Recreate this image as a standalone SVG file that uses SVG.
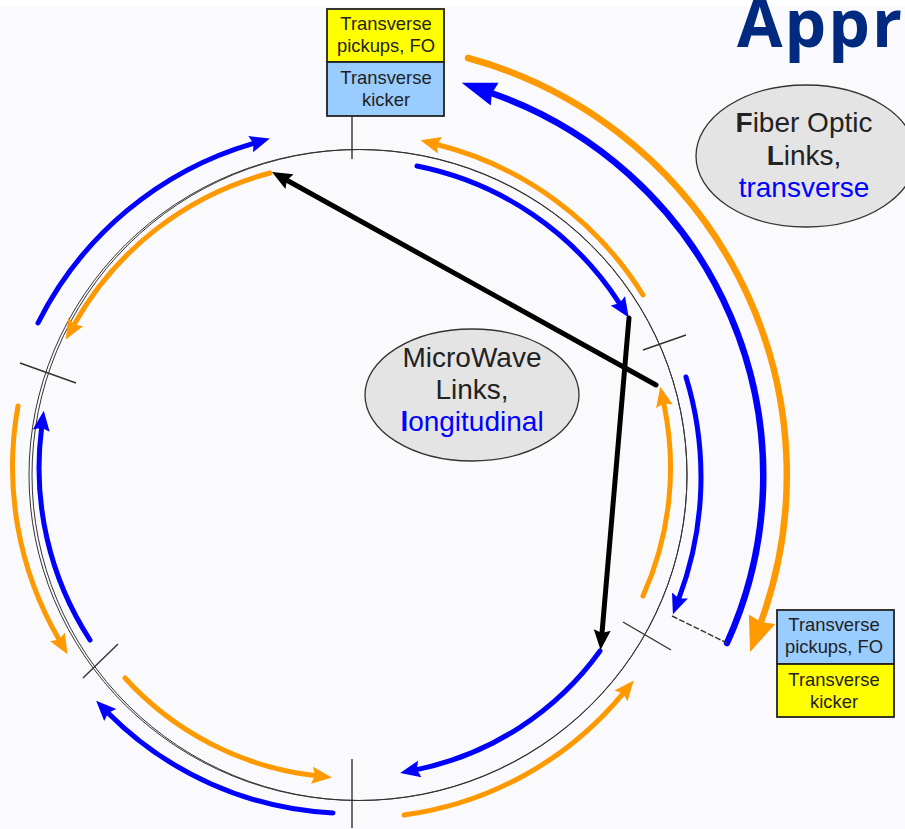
<svg xmlns="http://www.w3.org/2000/svg" width="905" height="829" viewBox="0 0 905 829">
<style>
.o{stroke:#ff9900;fill:none}
.b{stroke:#0000ff;fill:none}
.k{stroke:#000;fill:none;stroke-width:5;stroke-linecap:round}
.thin{stroke-width:5;stroke-linecap:round}
.thick{stroke-width:6.5;stroke-linecap:round}
.ring{fill:none;stroke:#333;stroke-width:1}
.tick{stroke:#333;stroke-width:1.4;fill:none}
.box{stroke:#222;stroke-width:1.8}
.bt{font-family:"Liberation Sans",Arial,sans-serif;font-size:18.4px;fill:#222;text-anchor:middle}
.el{fill:#e4e4e4;stroke:#333;stroke-width:1.3}
.et{font-family:"Liberation Sans",Arial,sans-serif;font-size:28px;fill:#222;text-anchor:middle}
.blue{fill:#0000ff}
.first{font-weight:bold}
</style>
<defs>
<marker id="ho" markerUnits="userSpaceOnUse" markerWidth="22" markerHeight="20" refX="3" refY="10" orient="auto"><path d="M0 1.5L20 10L0 18.5L3 10Z" fill="#ff9900"/></marker>
<marker id="hb" markerUnits="userSpaceOnUse" markerWidth="22" markerHeight="20" refX="3" refY="10" orient="auto"><path d="M0 1.5L20 10L0 18.5L3 10Z" fill="#0000ff"/></marker>
<marker id="hk" markerUnits="userSpaceOnUse" markerWidth="22" markerHeight="20" refX="3" refY="10" orient="auto"><path d="M0 1.5L20 10L0 18.5L3 10Z" fill="#000"/></marker>
<marker id="hO" markerUnits="userSpaceOnUse" markerWidth="38" markerHeight="32" refX="3" refY="16" orient="auto"><path d="M0 2L35 16L0 30L3 16Z" fill="#ff9900"/></marker>
<marker id="hB" markerUnits="userSpaceOnUse" markerWidth="38" markerHeight="28" refX="3" refY="14" orient="auto"><path d="M0 2L35 14L0 26L3 14Z" fill="#0000ff"/></marker>
</defs>
<rect width="905" height="829" fill="#fafafc"/>
<rect width="905" height="7" fill="#fff"/>
<text x="737" y="47" font-family="'Open Sans','Liberation Sans',Arial,sans-serif" font-size="66" font-weight="bold" letter-spacing="2" fill="#002a7f">Appr</text>
<g id="rings">
<ellipse class="ring" cx="358" cy="475" rx="329" ry="325.5"/>
<ellipse class="ring" cx="359.5" cy="475" rx="327.5" ry="325.5"/>
</g>
<g id="connectors">
<path class="o thin" marker-end="url(#ho)" d="M643 295A340 340 0 0 0 437 144.5"/>
<path class="b thin" marker-end="url(#hb)" d="M417 166A314 314 0 0 1 619.5 303.3"/>
<path class="b thin" marker-end="url(#hb)" d="M686 377A343 343 0 0 1 678.9 598.4"/>
<path class="o thin" marker-end="url(#ho)" d="M643 596A312 312 0 0 0 663.8 403.4"/>
<path class="b thin" marker-end="url(#hb)" d="M600 651A300 300 0 0 1 416.8 769.6"/>
<path class="o thin" marker-end="url(#ho)" d="M404 815A343 343 0 0 0 622.9 693.6"/>
<path class="o thin" marker-end="url(#ho)" d="M125 678A305 305 0 0 0 315 775.6"/>
<path class="b thin" marker-end="url(#hb)" d="M333 813A341 341 0 0 1 108.1 712.9"/>
<path class="b thin" marker-end="url(#hb)" d="M90 640A316 316 0 0 1 41.6 427.7"/>
<path class="o thin" marker-end="url(#ho)" d="M18 406A343 343 0 0 0 59 639.5"/>
<path class="b thin" marker-end="url(#hb)" d="M38 323A350 350 0 0 1 253.5 143.3"/>
<path class="o thin" marker-end="url(#ho)" d="M270 173A317 317 0 0 0 74.1 324.6"/>
<path class="b thick" marker-end="url(#hB)" d="M727 643A405 405 0 0 0 491.9 93.2"/>
<path class="o thick" marker-end="url(#hO)" d="M468 58A432 432 0 0 1 761 622"/>
<path class="k" marker-end="url(#hk)" d="M656 385L286.9 180.2"/>
<path class="k" marker-end="url(#hk)" d="M629 318L602 633"/>
<path class="tick" stroke-dasharray="6 2" d="M672 616L727 643"/>
<path class="tick" d="M352 117V159M352 759V828M643 350L686 335M20 363L76 383M83 678L118 644M623 622L671 650"/>
</g>
<g id="node-top">
<rect class="box" x="327" y="9" width="117" height="53" fill="#ffff00"/>
<rect class="box" x="327" y="62" width="117" height="54" fill="#99ccff"/>
<text class="bt" x="386" y="30">Transverse</text>
<text class="bt" x="386" y="52">pickups, FO</text>
<text class="bt" x="386" y="84">Transverse</text>
<text class="bt" x="386" y="106">kicker</text>
</g>
<g id="node-bottom">
<rect class="box" x="777" y="610" width="117" height="54" fill="#99ccff"/>
<rect class="box" x="777" y="664" width="117" height="53" fill="#ffff00"/>
<text class="bt" x="834" y="631">Transverse</text>
<text class="bt" x="834" y="653">pickups, FO</text>
<text class="bt" x="834" y="686">Transverse</text>
<text class="bt" x="834" y="708">kicker</text>
</g>
<g id="node-microwave">
<ellipse class="el" cx="472" cy="395" rx="107" ry="66"/>
<text class="et" x="472" y="367">MicroWave</text>
<text class="et" x="472" y="399">Links,</text>
<text class="et blue" x="472" y="431" style="fill:#0000ff"><tspan class="first">l</tspan>ongitudinal</text>
</g>
<g id="node-fiber">
<ellipse class="el" cx="806" cy="156" rx="110" ry="71"/>
<text class="et" x="804" y="132"><tspan class="first">F</tspan>iber Optic</text>
<text class="et" x="804" y="165"><tspan class="first">L</tspan>inks,</text>
<text class="et" x="804" y="197" style="fill:#0000ff">transverse</text>
</g>
</svg>
